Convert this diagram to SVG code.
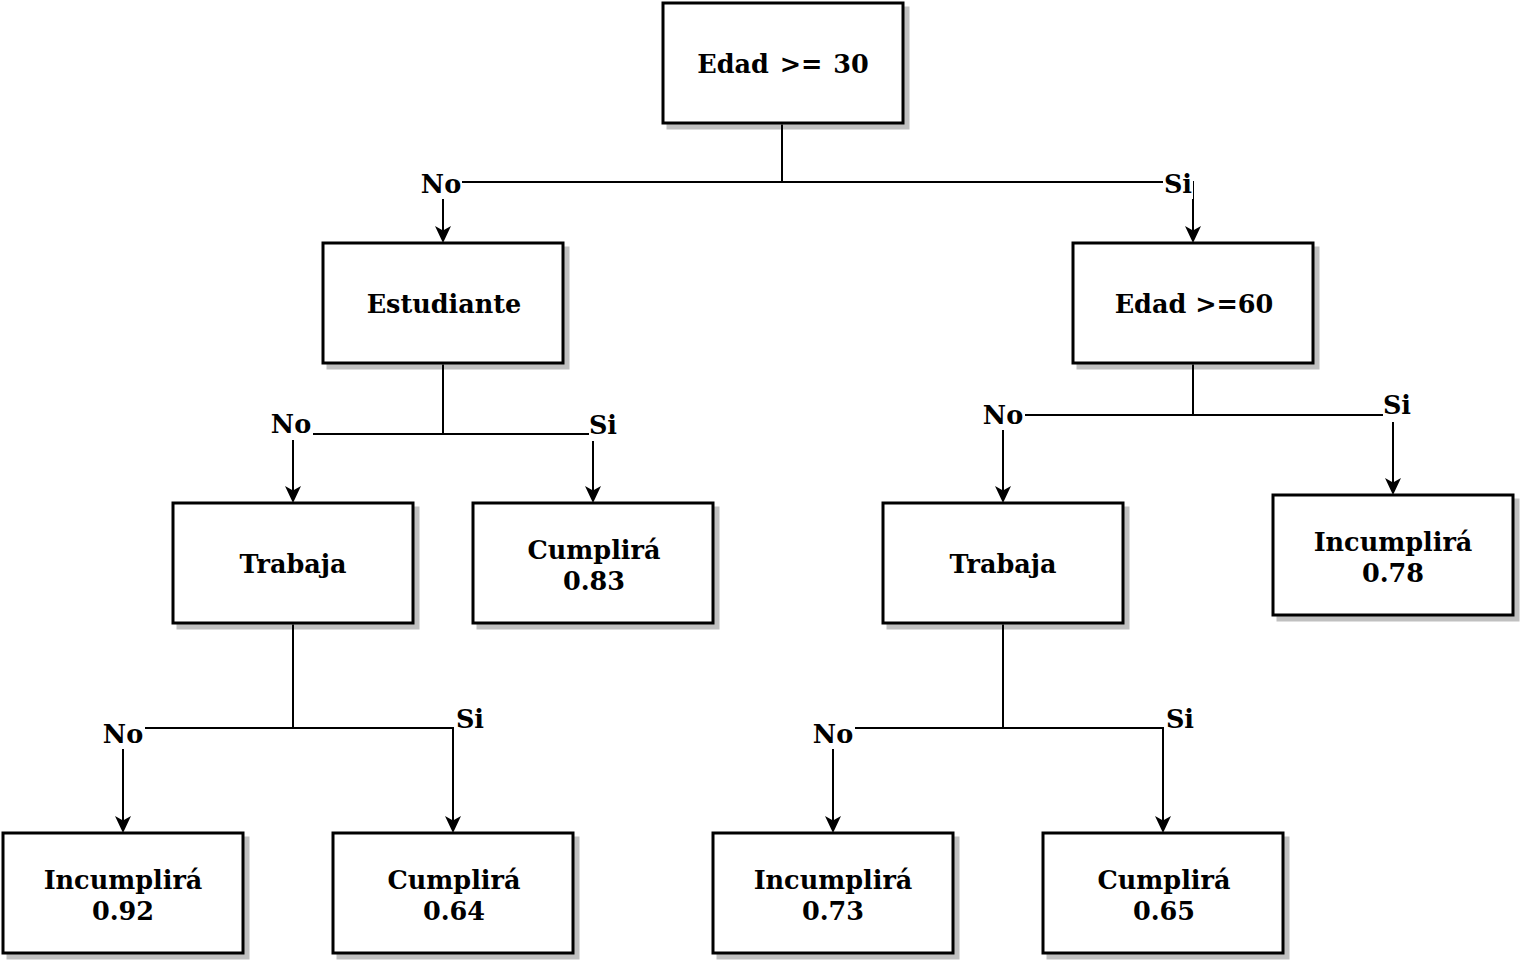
<svg xmlns="http://www.w3.org/2000/svg" width="1520" height="964" viewBox="0 0 1520 964">
<defs>
<style>
.box{fill:#fff;stroke:#000;stroke-width:3}
.sh{fill:#c0c0c0;stroke:#c0c0c0;stroke-width:3}
.t{font-family:"DejaVu Serif",serif;font-weight:bold;font-size:25.5px;fill:#000;text-anchor:middle}
.e{fill:none;stroke:#000;stroke-width:2}
.lb{fill:#fff}
</style>
</defs>
<rect width="1520" height="964" fill="#fff"/>
<g id="n-root"><rect class="sh" x="668" y="8" width="240" height="120"/><rect class="box" x="663" y="3" width="240" height="120"/><text class="t" x="783" y="73" word-spacing="2">Edad &gt;= 30</text></g>
<g id="n-estudiante"><rect class="sh" x="328" y="248" width="240" height="120"/><rect class="box" x="323" y="243" width="240" height="120"/><text class="t" x="444" y="313">Estudiante</text></g>
<g id="n-edad60"><rect class="sh" x="1078" y="248" width="240" height="120"/><rect class="box" x="1073" y="243" width="240" height="120"/><text class="t" x="1194" y="313">Edad &gt;=60</text></g>
<g id="n-trabaja1"><rect class="sh" x="178" y="508" width="240" height="120"/><rect class="box" x="173" y="503" width="240" height="120"/><text class="t" x="293" y="573">Trabaja</text></g>
<g id="n-cumplira083"><rect class="sh" x="478" y="508" width="240" height="120"/><rect class="box" x="473" y="503" width="240" height="120"/><text class="t" x="594" y="559">Cumplirá</text><text class="t" x="594" y="590">0.83</text></g>
<g id="n-trabaja2"><rect class="sh" x="888" y="508" width="240" height="120"/><rect class="box" x="883" y="503" width="240" height="120"/><text class="t" x="1003" y="573">Trabaja</text></g>
<g id="n-incumplira078"><rect class="sh" x="1278" y="500" width="240" height="120"/><rect class="box" x="1273" y="495" width="240" height="120"/><text class="t" x="1393" y="551">Incumplirá</text><text class="t" x="1393" y="582">0.78</text></g>
<g id="n-incumplira092"><rect class="sh" x="8" y="838" width="240" height="120"/><rect class="box" x="3" y="833" width="240" height="120"/><text class="t" x="123" y="889">Incumplirá</text><text class="t" x="123" y="920">0.92</text></g>
<g id="n-cumplira064"><rect class="sh" x="338" y="838" width="240" height="120"/><rect class="box" x="333" y="833" width="240" height="120"/><text class="t" x="454" y="889">Cumplirá</text><text class="t" x="454" y="920">0.64</text></g>
<g id="n-incumplira073"><rect class="sh" x="718" y="838" width="240" height="120"/><rect class="box" x="713" y="833" width="240" height="120"/><text class="t" x="833" y="889">Incumplirá</text><text class="t" x="833" y="920">0.73</text></g>
<g id="n-cumplira065"><rect class="sh" x="1048" y="838" width="240" height="120"/><rect class="box" x="1043" y="833" width="240" height="120"/><text class="t" x="1164" y="889">Cumplirá</text><text class="t" x="1164" y="920">0.65</text></g>
<g id="connectors">
<path d="M782,124.5 V182 H443 V231" class="e"/>
<path d="M782,182 H1193 V231" class="e"/>
<path d="M443,364.5 V434 H293 V491" class="e"/>
<path d="M443,434 H593 V491" class="e"/>
<path d="M1193,364.5 V415 H1003 V491" class="e"/>
<path d="M1193,415 H1393 V483" class="e"/>
<path d="M293,624.5 V728 H123 V821" class="e"/>
<path d="M293,728 H453 V821" class="e"/>
<path d="M1003,624.5 V728 H833 V821" class="e"/>
<path d="M1003,728 H1163 V821" class="e"/>
<g fill="#000">
<path d="M443,243 l-8,-17 l8,4.5 l8,-4.5 z"/>
<path d="M1193,243 l-8,-17 l8,4.5 l8,-4.5 z"/>
<path d="M293,503 l-8,-17 l8,4.5 l8,-4.5 z"/>
<path d="M593,503 l-8,-17 l8,4.5 l8,-4.5 z"/>
<path d="M1003,503 l-8,-17 l8,4.5 l8,-4.5 z"/>
<path d="M1393,495 l-8,-17 l8,4.5 l8,-4.5 z"/>
<path d="M123,833 l-8,-17 l8,4.5 l8,-4.5 z"/>
<path d="M453,833 l-8,-17 l8,4.5 l8,-4.5 z"/>
<path d="M833,833 l-8,-17 l8,4.5 l8,-4.5 z"/>
<path d="M1163,833 l-8,-17 l8,4.5 l8,-4.5 z"/>
</g>
<rect class="lb" x="419" y="167" width="43" height="32"/>
<text class="t" x="441" y="193">No</text>
<rect class="lb" x="1163" y="167" width="30" height="32"/>
<text class="t" x="1178" y="193">Si</text>
<rect class="lb" x="269" y="407" width="44" height="33"/>
<text class="t" x="291" y="433">No</text>
<rect class="lb" x="589" y="407" width="30" height="34"/>
<text class="t" x="603" y="434">Si</text>
<rect class="lb" x="981" y="398" width="44" height="32"/>
<text class="t" x="1003" y="424">No</text>
<rect class="lb" x="1383" y="388" width="30" height="34"/>
<text class="t" x="1397" y="414">Si</text>
<rect class="lb" x="101" y="717" width="44" height="32"/>
<text class="t" x="123" y="743">No</text>
<rect class="lb" x="455" y="702" width="30" height="34"/>
<text class="t" x="470" y="728">Si</text>
<rect class="lb" x="811" y="717" width="44" height="32"/>
<text class="t" x="833" y="743">No</text>
<rect class="lb" x="1165" y="702" width="30" height="34"/>
<text class="t" x="1180" y="728">Si</text>
</g>
</svg>
